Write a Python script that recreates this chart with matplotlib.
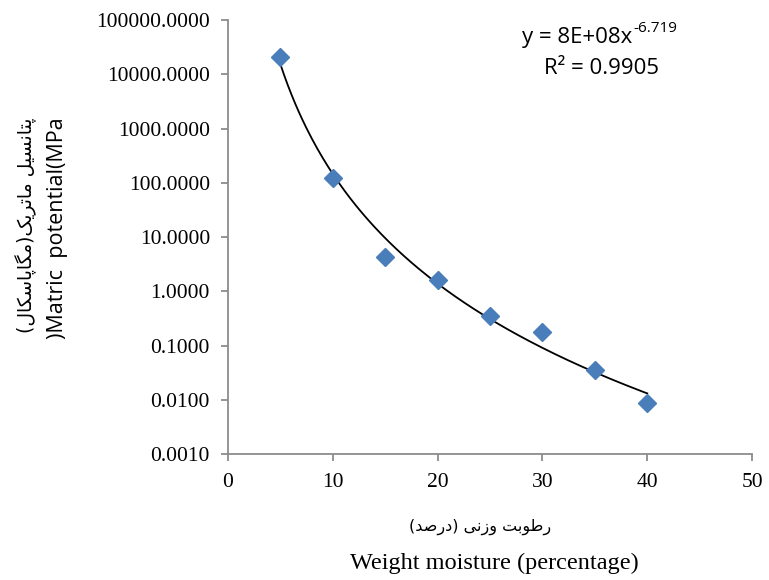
import numpy as np
import matplotlib
matplotlib.use("Agg")
import matplotlib.pyplot as plt
from matplotlib.ticker import FixedLocator, FuncFormatter

# data
moisture = [5, 10, 15, 20, 25, 30, 35, 40]
potential = [20800, 124, 4.2, 1.6, 0.355, 0.18, 0.036, 0.0086]

eq_base = "y = 8E+08x"
eq_exp = "-6.719"
r2_text = "R\u00b2 = 0.9905"
ylabel_fa = "پتانسیل ماتریک(مگاپاسکال)"
ylabel_en = ")Matric  potential(MPa"
xlabel_fa = "رطوبت وزنی (درصد)"
xlabel_en = "Weight moisture (percentage)"

yticks = [0.001, 0.01, 0.1, 1, 10, 100, 1000, 10000, 100000]
xticks = [0, 10, 20, 30, 40, 50]


# minimal persian shaping (no arabic_reshaper available)
# forms: isolated, final, initial, medial
FORMS = {
    "پ": ("\uFB56", "\uFB57", "\uFB58", "\uFB59"),
    "ت": ("\uFE95", "\uFE96", "\uFE97", "\uFE98"),
    "ن": ("\uFEE5", "\uFEE6", "\uFEE7", "\uFEE8"),
    "س": ("\uFEB1", "\uFEB2", "\uFEB3", "\uFEB4"),
    "ی": ("\uFBFC", "\uFBFD", "\uFBFE", "\uFBFF"),
    "ل": ("\uFEDD", "\uFEDE", "\uFEDF", "\uFEE0"),
    "م": ("\uFEE1", "\uFEE2", "\uFEE3", "\uFEE4"),
    "ک": ("\uFB8E", "\uFB8F", "\uFB90", "\uFB91"),
    "گ": ("\uFB92", "\uFB93", "\uFB94", "\uFB95"),
    "ط": ("\uFEC1", "\uFEC2", "\uFEC3", "\uFEC4"),
    "ب": ("\uFE8F", "\uFE90", "\uFE91", "\uFE92"),
    "ص": ("\uFEB9", "\uFEBA", "\uFEBB", "\uFEBC"),
    "ا": ("\uFE8D", "\uFE8E", None, None),
    "ر": ("\uFEAD", "\uFEAE", None, None),
    "و": ("\uFEED", "\uFEEE", None, None),
    "ز": ("\uFEAF", "\uFEB0", None, None),
    "د": ("\uFEA9", "\uFEAA", None, None),
}


def dual(c):
    return c in FORMS and FORMS[c][2] is not None


def shape(s):
    out = []
    i = 0
    n = len(s)
    while i < n:
        c = s[i]
        if c not in FORMS:
            out.append(c)
            i += 1
            continue
        prev_join = i > 0 and dual(s[i - 1])
        if c == "ل" and i + 1 < n and s[i + 1] == "ا":
            out.append("\uFEFC" if prev_join else "\uFEFB")
            i += 2
            continue
        next_join = dual(c) and i + 1 < n and s[i + 1] in FORMS
        f = FORMS[c]
        if prev_join and next_join:
            out.append(f[3])
        elif prev_join:
            out.append(f[1])
        elif next_join:
            out.append(f[2])
        else:
            out.append(f[0])
        i += 1
    vis = "".join(reversed(out))
    return vis.translate(str.maketrans("()", ")("))


fig = plt.figure(figsize=(7.69, 5.8), dpi=100)
ax = fig.add_axes([0.2965, 0.2172, 0.6815, 0.7483])

xs = np.array(moisture, dtype=float)
ys = np.array(potential, dtype=float)
b, loga = np.polyfit(np.log(xs), np.log(ys), 1)
xf = np.linspace(xs.min(), xs.max(), 200)
ax.plot(xf, np.exp(loga) * xf ** b, color="black", lw=1.3, zorder=2)
ax.plot(xs, ys, "D", color="#4a7ebb", ms=9.5, mec="#4a7ebb", zorder=3,
        clip_on=False)

ax.set_yscale("log")
ax.set_ylim(0.001, 100000)
ax.set_xlim(0, 50)
ax.yaxis.set_major_locator(FixedLocator(yticks))
ax.yaxis.set_minor_locator(FixedLocator([]))
ax.yaxis.set_major_formatter(FuncFormatter(lambda v, p: "%.4f" % v))
ax.xaxis.set_major_locator(FixedLocator(xticks))

for s in ["top", "right"]:
    ax.spines[s].set_visible(False)
for s in ["left", "bottom"]:
    ax.spines[s].set_color("#8c8c8c")
    ax.spines[s].set_linewidth(1.3)
ax.tick_params(axis="both", colors="#8c8c8c", width=1.3, length=5,
               labelcolor="black", labelsize=15.5)
ax.tick_params(axis="y", pad=8)
ax.tick_params(axis="x", pad=9)
for lab in ax.get_xticklabels() + ax.get_yticklabels():
    lab.set_family("Liberation Serif")

# trendline equation
fig.text(632 / 769, 1 - 37 / 580, eq_base, ha="right", va="center",
         fontsize=16, family="Open Sans")
fig.text(633 / 769, 1 - 29 / 580, eq_exp, ha="left", va="center",
         fontsize=11, family="Open Sans")
fig.text(602 / 769, 1 - 69 / 580, r2_text, ha="center", va="center",
         fontsize=16, family="Open Sans")

fig.text(26 / 769, 1 - 225 / 580, shape(ylabel_fa), rotation=90,
         ha="center", va="center", fontsize=13.5, family="DejaVu Sans")
fig.text(57 / 769, 1 - 228 / 580, ylabel_en, rotation=90, ha="center",
         va="center", fontsize=15.5, family="Open Sans")
fig.text(480 / 769, 1 - 527 / 580, shape(xlabel_fa), ha="center",
         va="center", fontsize=11.5, family="DejaVu Sans")
fig.text(494 / 769, 1 - 563 / 580, xlabel_en, ha="center", va="center",
         fontsize=17.5, family="Liberation Serif")

fig.savefig("out.png", dpi=100)
